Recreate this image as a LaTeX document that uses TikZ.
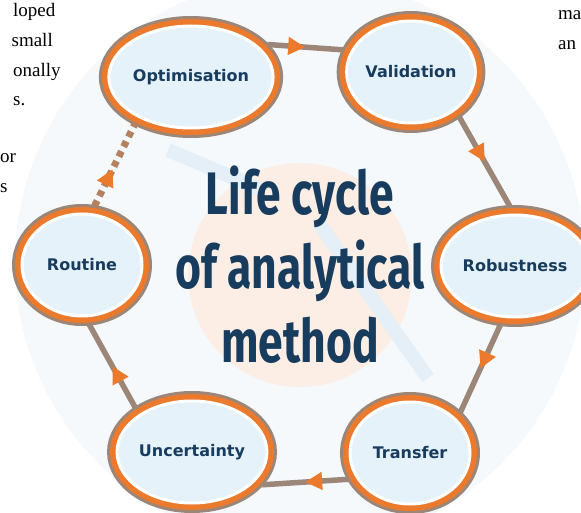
\documentclass[tikz,border=0pt]{standalone}
\usepackage{fontspec}
\setmainfont{Liberation Serif}
\newfontfamily\labelfont{DejaVu Sans}
\newfontfamily\titlefont[FakeStretch=0.74]{Fira Sans}
\usetikzlibrary{shapes,arrows.meta,decorations.markings}

\definecolor{ringor}{HTML}{EC7A2C}
\definecolor{ringgr}{HTML}{9C8677}
\definecolor{stagefill}{HTML}{E6F2FA}
\definecolor{navy}{HTML}{173C5E}
\definecolor{haze}{HTML}{F5F9FC}
\definecolor{markbl}{HTML}{E4EFF7}
\definecolor{markor}{HTML}{FCEEE4}

\begin{document}
\begin{tikzpicture}[x=1pt,y=-1pt,
    stage/.style={ellipse,minimum width=120pt,minimum height=102pt,inner sep=0pt,outer sep=9pt,
      preaction={draw=ringgr,line width=20pt},
      preaction={draw=ringor,line width=14pt},
      fill=stagefill,draw=white,line width=3pt,
      font=\labelfont\bfseries\fontsize{16}{18}\selectfont,text=navy},
    flow/.style={draw=ringgr,line width=5.5pt,postaction={decorate},
      decoration={markings,mark=at position 0.5 with {\arrow{Triangle[length=17pt,width=17pt,color=ringor]}}}},
    back/.style={draw=ringgr!70!ringor,line width=7pt,dash pattern=on 6pt off 5pt,postaction={decorate},
      decoration={markings,mark=at position 0.45 with {\arrow{Triangle[length=17pt,width=17pt,color=ringor]}}}},
    bodytxt/.style={font=\fontsize{19}{23}\selectfont,inner sep=0pt}]
  \clip (0,0) rectangle (581,513);
  \fill[haze] (300,262) circle (285);
  % logo behind the title
  \fill[markor] (300,275) circle (112);
  \draw[markbl,line width=14pt] (168,150) -- (262,190);
  \draw[markbl,line width=14pt] (318,222) -- (428,378);

  \node[stage] (opt) at (191,77) {Optimisation};
  \node[stage] (val) at (411,72) {Validation};
  \node[stage] (rob) at (515,266) {Robustness};
  \node[stage] (trans) at (410,453) {Transfer};
  \node[stage] (unc) at (192,452) {Uncertainty};
  \node[stage] (rout) at (82,265) {Routine};

  \node[align=center,text=navy,font=\titlefont\bfseries\fontsize{60}{74}\selectfont] (title) at (300,265)
    {Life cycle\\of analytical\\method};

  \path (opt.23) edge[flow] (val.162)
        (val.-43) edge[flow] (rob.95)
        (rob.-104) edge[flow] (trans.39)
        (trans.-157) edge[flow] (unc.-25)
        (unc.142) edge[flow] (rout.-83)
        (rout.78) edge[back] (opt.-140);

  % text of the page around the figure
  \node[bodytxt,anchor=base west] (t1) at (13,17) {loped};
  \node[bodytxt,anchor=base east] (t2) at (53,47) {small};
  \node[bodytxt,anchor=base west] (t3) at (13,77) {onally};
  \node[bodytxt,anchor=base west] (t4) at (13,106) {s.};
  \node[bodytxt,anchor=base west] (t5) at (0,163) {or};
  \node[bodytxt,anchor=base west] (t6) at (0,193) {s};
  \node[bodytxt,anchor=base west] (t7) at (558,20) {ma};
  \node[bodytxt,anchor=base west] (t8) at (558,50) {an};
\end{tikzpicture}
\end{document}
